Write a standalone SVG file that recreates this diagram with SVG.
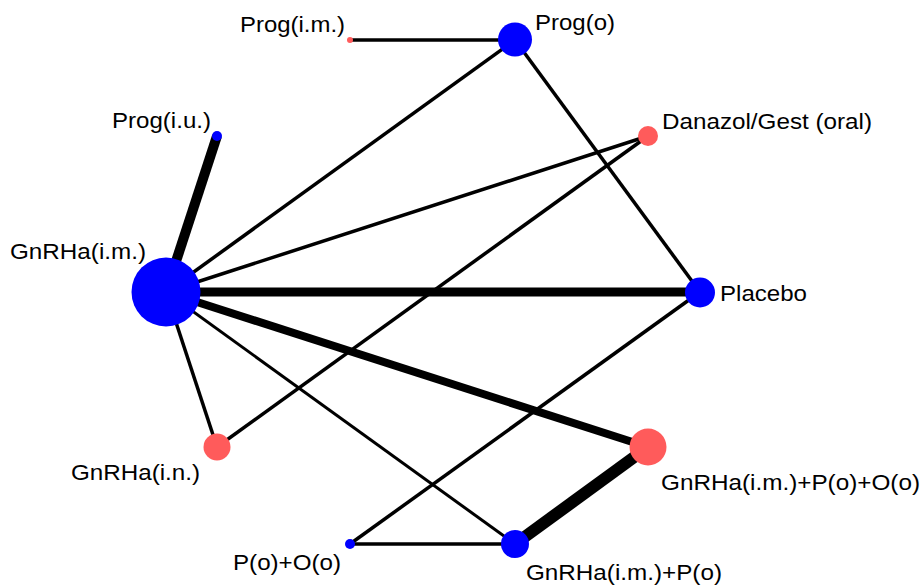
<svg xmlns="http://www.w3.org/2000/svg" width="923" height="588" viewBox="0 0 923 588">
<style>
.e{stroke:#000;fill:none;stroke-linecap:butt}
.t{stroke-width:3.5}
.b{fill:#0000ff}
.r{fill:#ff5b5b}
text{font-family:"Liberation Sans",Arial,sans-serif;font-size:22px;fill:#000}
</style>
<rect width="923" height="588" fill="#fff"/>
<g id="connectors">
<line class="e t" x1="350" y1="40" x2="515" y2="40"/>
<line class="e" x1="166" y1="292" x2="217" y2="136" stroke-width="10"/>
<line class="e t" x1="166" y1="292" x2="515" y2="40"/>
<line class="e t" x1="166" y1="292" x2="648" y2="136"/>
<line class="e" x1="166" y1="292" x2="700" y2="292" stroke-width="9"/>
<line class="e" x1="166" y1="292" x2="648" y2="447" stroke-width="8"/>
<line class="e t" x1="166" y1="292" x2="217" y2="447"/>
<line class="e" x1="166" y1="292" x2="515" y2="544" stroke-width="3"/>
<line class="e t" x1="217" y1="447" x2="648" y2="136"/>
<line class="e t" x1="515" y1="40" x2="700" y2="292"/>
<line class="e t" x1="700" y1="292" x2="350" y2="544"/>
<line class="e t" x1="350" y1="544" x2="515" y2="544"/>
<line class="e" x1="515" y1="544" x2="648" y2="447" stroke-width="12"/>
</g>
<g id="prog_im"><circle class="r" cx="350" cy="40" r="3"/><text x="240" y="32" textLength="105" lengthAdjust="spacingAndGlyphs">Prog(i.m.)</text></g>
<g id="prog_o"><circle class="b" cx="515" cy="39.5" r="17"/><text x="535" y="29.5" textLength="80" lengthAdjust="spacingAndGlyphs">Prog(o)</text></g>
<g id="danazol"><circle class="r" cx="648" cy="136" r="10"/><text x="662" y="128.5" textLength="210" lengthAdjust="spacingAndGlyphs">Danazol/Gest (oral)</text></g>
<g id="placebo"><circle class="b" cx="700" cy="292.5" r="15"/><text x="720" y="301" textLength="87" lengthAdjust="spacingAndGlyphs">Placebo</text></g>
<g id="gnrha_im_p_o_o_o"><circle class="r" cx="648" cy="447" r="18.5"/><text x="661" y="489.5" textLength="259" lengthAdjust="spacingAndGlyphs">GnRHa(i.m.)+P(o)+O(o)</text></g>
<g id="gnrha_im_p_o"><circle class="b" cx="515" cy="544" r="14"/><text x="526" y="580" textLength="196" lengthAdjust="spacingAndGlyphs">GnRHa(i.m.)+P(o)</text></g>
<g id="p_o_o_o"><circle class="b" cx="350" cy="544" r="5"/><text x="233" y="570" textLength="108" lengthAdjust="spacingAndGlyphs">P(o)+O(o)</text></g>
<g id="gnrha_in"><circle class="r" cx="217" cy="447" r="13.5"/><text x="71" y="479.5" textLength="129" lengthAdjust="spacingAndGlyphs">GnRHa(i.n.)</text></g>
<g id="gnrha_im"><circle class="b" cx="166" cy="292" r="34.5"/><text x="10" y="258.5" textLength="136" lengthAdjust="spacingAndGlyphs">GnRHa(i.m.)</text></g>
<g id="prog_iu"><circle class="b" cx="217" cy="136" r="5"/><text x="112" y="128" textLength="99" lengthAdjust="spacingAndGlyphs">Prog(i.u.)</text></g>
</svg>
